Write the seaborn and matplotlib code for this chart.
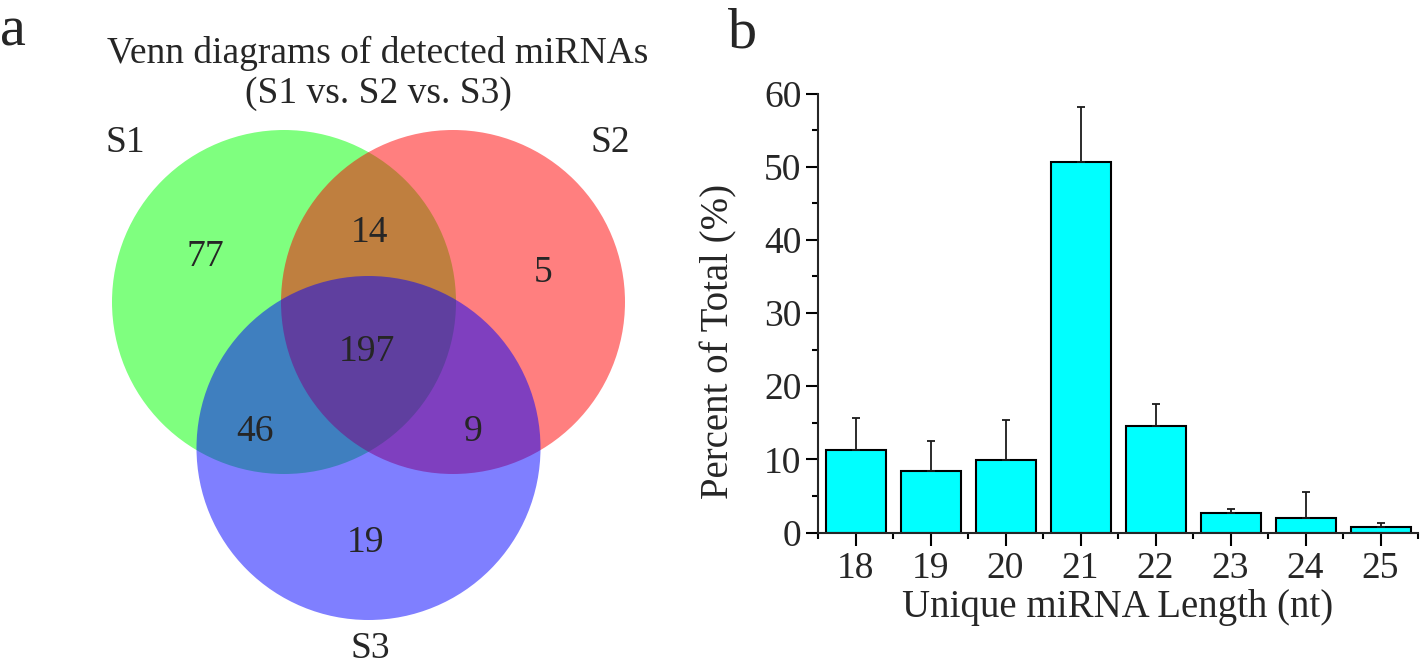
import numpy as np
import matplotlib
matplotlib.use("Agg")
import matplotlib.pyplot as plt
from matplotlib.patches import Circle
from matplotlib.ticker import MultipleLocator, FixedLocator
import seaborn as sns

sns.set_theme(style="ticks")
plt.rcParams['font.family'] = ['Liberation Serif', 'DejaVu Serif']

# panel a: venn counts
venn_sets = ["S1", "S2", "S3"]
venn_counts = [77, 14, 5, 197, 46, 9, 19]   # S1 only, S1&S2, S2 only, all, S1&S3, S2&S3, S3 only

# panel b: length distribution
lengths = ["18", "19", "20", "21", "22", "23", "24", "25"]
percent = [11.3, 8.45, 9.9, 50.6, 14.5, 2.6, 2.0, 0.75]
err_up = [4.3, 4.05, 5.5, 7.5, 3.1, 0.6, 3.55, 0.6]

fig = plt.figure(figsize=(14.24, 6.68), dpi=100)

# ---- venn (axes in pixel units) ----
ax_v = fig.add_axes([0, 0, 712 / 1424, 1])
ax_v.set_xlim(0, 712)
ax_v.set_ylim(668, 0)
ax_v.axis('off')

centers = [(284, 302), (453, 302), (368.5, 448)]
colors = ['#00FF00', '#FF0000', '#0000FF']
for (cx, cy), col in zip(centers, colors):
    ax_v.add_patch(Circle((cx, cy), 172, facecolor=col, alpha=0.5, edgecolor='none'))

count_pos = [(205, 257), (370, 233), (543, 273), (367, 352), (255, 432), (473, 432), (365, 543)]
for (tx, ty), n in zip(count_pos, venn_counts):
    ax_v.text(tx, ty, str(n), ha='center', va='center', fontsize=27)

set_pos = [(125, 143), (610, 143), (370, 649)]
for (tx, ty), s in zip(set_pos, venn_sets):
    ax_v.text(tx, ty, s, ha='center', va='center', fontsize=27)

ax_v.text(378, 73, "Venn diagrams of detected miRNAs\n(S1 vs. S2 vs. S3)",
          ha='center', va='center', fontsize=27, linespacing=1.2)

# ---- bar chart ----
ax_b = fig.add_axes([818 / 1424, 1 - 532.5 / 668, 600 / 1424, 439 / 668])
sns.barplot(x=lengths, y=percent, color='#00FFFF', saturation=1, width=0.8,
            edgecolor='black', linewidth=1.5, ax=ax_b)
xpos = [p.get_x() + p.get_width() / 2 for p in ax_b.patches]
ax_b.errorbar(xpos, percent, yerr=[np.zeros(len(percent)), err_up], fmt='none',
              ecolor='#1a1a1a', elinewidth=1.3, capsize=3, capthick=1.3, zorder=3)

ax_b.set_xlim(-0.5, 7.5)
ax_b.set_ylim(0, 60)
ax_b.yaxis.set_major_locator(MultipleLocator(10))
ax_b.yaxis.set_minor_locator(MultipleLocator(5))
ax_b.xaxis.set_minor_locator(FixedLocator(np.arange(-0.5, 8, 1)))
sns.despine(ax=ax_b)
for sp in ['left', 'bottom']:
    ax_b.spines[sp].set_linewidth(1.5)
ax_b.tick_params(which='major', length=9, width=1.5, labelsize=27, color='black')
ax_b.tick_params(axis='y', which='major', pad=3)
ax_b.tick_params(axis='x', which='major', pad=5)
ax_b.tick_params(which='minor', length=4.5, width=1.5, color='black')
ax_b.set_xlabel("Unique miRNA Length (nt)", fontsize=28, labelpad=2)
ax_b.set_ylabel("Percent of Total (%)", fontsize=28)
ax_b.yaxis.set_label_coords(-0.135, 0.435)

fig.text(0.0, 1 - 46 / 668, "a", fontsize=42, va='baseline', ha='left')
fig.text(728 / 1424, 1 - 48 / 668, "b", fontsize=42, va='baseline', ha='left')

fig.savefig("out.png", dpi=100)
